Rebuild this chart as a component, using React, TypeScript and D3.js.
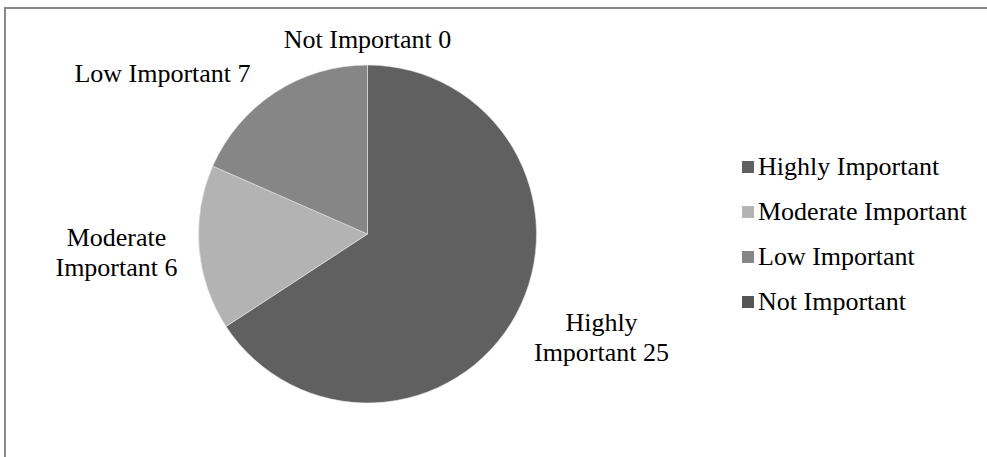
import React from "react";
import * as d3 from "d3";

const categories = ["Highly Important", "Moderate Important", "Low Important", "Not Important"];
const values = [25, 6, 7, 0];
const labelLines = [
  ["Highly", "Important 25"],
  ["Moderate", "Important 6"],
  ["Low Important 7"],
  ["Not Important 0"],
];

const W = 987;
const H = 457;
const FONT = "'Liberation Serif', 'Times New Roman', serif";
const colors = ["#606060", "#b3b3b3", "#868686", "#555555"];

// label anchor offsets relative to the pie centre, per slice
const labelPos: [number, number][] = [
  [234, 97],
  [-251, 12],
  [-205, -152],
  [0, -186],
];

export default function App() {
  const cx = 367.5;
  const cy = 234;
  const r = 169;

  const pie = d3
    .pie<number>()
    .sort(null)
    .value((d) => d)
    .startAngle(0)
    .endAngle(2 * Math.PI);
  const arcs = pie(values);
  const arc = d3.arc<d3.PieArcDatum<number>>().innerRadius(0).outerRadius(r);

  const legendY = d3
    .scalePoint<string>()
    .domain(categories)
    .range([167, 302]);

  return (
    <div style={{ position: "fixed", left: 0, top: 0 }}>
      <svg width={W} height={H} style={{ display: "block", background: "#fff" }}>
        <rect x={5} y={8} width={W + 20} height={H + 20} fill="#fff" stroke="#888" strokeWidth={2} />
        <g transform={`translate(${cx},${cy})`}>
          {arcs.map((a, i) =>
            a.value > 0 ? (
              <path key={i} d={arc(a) || ""} fill={colors[i]} stroke="#e6e6e6" strokeWidth={0.6} />
            ) : null
          )}
          {labelLines.map((lines, i) => (
            <text
              key={i}
              x={labelPos[i][0]}
              y={labelPos[i][1]}
              textAnchor="middle"
              fontFamily={FONT}
              fontSize={26}
              fill="#000"
            >
              {lines.map((l, j) => (
                <tspan key={j} x={labelPos[i][0]} dy={j === 0 ? 0 : 30}>
                  {l}
                </tspan>
              ))}
            </text>
          ))}
        </g>
        {categories.map((c, i) => (
          <g key={c} transform={`translate(742,${legendY(c)})`}>
            <rect x={0} y={-6} width={12} height={12} fill={colors[i]} />
            <text x={16} y={8} fontFamily={FONT} fontSize={26} fill="#000">
              {c}
            </text>
          </g>
        ))}
      </svg>
    </div>
  );
}
